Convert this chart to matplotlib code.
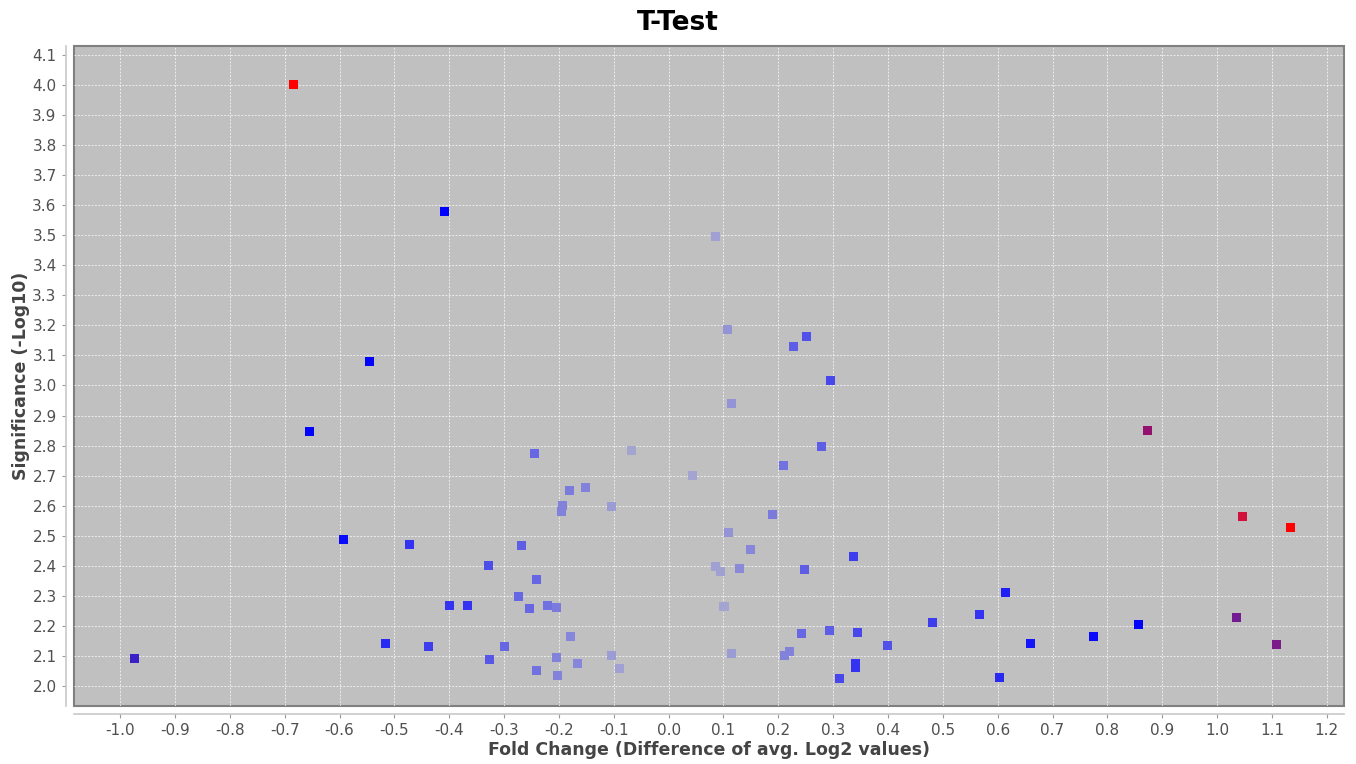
import numpy as np
import matplotlib.pyplot as plt
from matplotlib.colors import LinearSegmentedColormap

# fold change (x), significance -log10 (y), colour shade (0 = faint, 1 = red)
fold_change = [
    -0.683, -0.409, -0.546, -0.654, -0.593, -0.473, -0.973, -0.517, -0.438, -0.400,
    -0.367, -0.329, -0.326, -0.300, -0.274, -0.269, -0.254, -0.240, -0.245, -0.241,
    -0.221, -0.205, -0.205, -0.203, -0.194, -0.196, -0.181, -0.178, -0.167, -0.152,
    -0.105, -0.105, -0.089, -0.067, 0.044, 0.085, 0.086, 0.094, 0.101, 0.108,
    0.110, 0.114, 0.114, 0.130, 0.150, 0.190, 0.209, 0.211, 0.220, 0.227,
    0.251, 0.242, 0.247, 0.278, 0.294, 0.296, 0.312, 0.338, 0.345, 0.341,
    0.341, 0.400, 0.482, 0.566, 0.615, 0.604, 0.659, 0.774, 0.856, 0.874,
    1.047, 1.133, 1.036, 1.109,
]
significance = [
    4.003, 3.578, 3.080, 2.848, 2.487, 2.470, 2.090, 2.140, 2.130, 2.266,
    2.266, 2.400, 2.087, 2.132, 2.296, 2.466, 2.258, 2.353, 2.775, 2.052,
    2.266, 2.262, 2.093, 2.035, 2.600, 2.580, 2.652, 2.165, 2.075, 2.660,
    2.596, 2.100, 2.057, 2.785, 2.700, 3.497, 2.396, 2.382, 2.263, 3.185,
    2.512, 2.108, 2.940, 2.390, 2.453, 2.572, 2.735, 2.100, 2.116, 3.130,
    3.163, 2.176, 2.388, 2.798, 2.185, 3.018, 2.023, 2.432, 2.178, 2.073,
    2.061, 2.135, 2.210, 2.236, 2.311, 2.027, 2.140, 2.166, 2.203, 2.850,
    2.563, 2.528, 2.228, 2.138,
]
shade = [
    1.00, 0.50, 0.50, 0.50, 0.48, 0.40, 0.58, 0.42, 0.38, 0.40,
    0.40, 0.35, 0.33, 0.30, 0.30, 0.32, 0.30, 0.30, 0.30, 0.28,
    0.28, 0.26, 0.24, 0.24, 0.24, 0.24, 0.26, 0.22, 0.22, 0.24,
    0.12, 0.12, 0.10, 0.08, 0.08, 0.10, 0.10, 0.10, 0.08, 0.16,
    0.16, 0.12, 0.16, 0.20, 0.22, 0.26, 0.28, 0.24, 0.24, 0.32,
    0.34, 0.30, 0.32, 0.32, 0.32, 0.36, 0.36, 0.38, 0.36, 0.40,
    0.40, 0.34, 0.38, 0.40, 0.44, 0.42, 0.46, 0.48, 0.50, 0.80,
    0.90, 1.00, 0.70, 0.72,
]

x_ticks = np.round(np.arange(-1.0, 1.21, 0.1), 1)
y_ticks = np.round(np.arange(2.0, 4.11, 0.1), 1)

cmap = LinearSegmentedColormap.from_list(
    "tt",
    [(0.0, "#b4b4cc"), (0.25, "#8080dc"), (0.5, "#0000ff"),
     (0.6, "#4a28b8"), (0.72, "#7a1a8a"), (0.82, "#9a0f6a"),
     (0.9, "#d0103c"), (1.0, "#ff0000")],
)

fig = plt.figure(figsize=(13.56, 7.64), dpi=100)
ax = fig.add_axes([0.0546, 0.0759, 0.9364, 0.8639])
ax.set_facecolor("#c0c0c0")

ax.scatter(fold_change, significance, c=shade, cmap=cmap, vmin=0, vmax=1,
           marker="s", s=42, linewidths=0, zorder=3)

ax.set_xlim(-1.084, 1.231)
ax.set_ylim(1.933, 4.13)
ax.set_xticks(x_ticks)
ax.set_xticklabels(["%.1f" % (v + 0.0) for v in x_ticks])
ax.set_yticks(y_ticks)
ax.set_yticklabels(["%.1f" % v for v in y_ticks])

ax.grid(True, color="white", linestyle=(0, (2, 1.5)), linewidth=0.7, alpha=0.7)
ax.set_axisbelow(True)

for side in ["top", "right"]:
    ax.spines[side].set_visible(False)
for side in ["left", "bottom"]:
    ax.spines[side].set_position(("outward", 6))
    ax.spines[side].set_color("#c8c8c8")
    ax.spines[side].set_linewidth(1.2)

ax.patch.set_edgecolor("#808080")
ax.patch.set_linewidth(1.5)

ax.tick_params(axis="both", colors="#999999", length=3, labelsize=11,
               labelcolor="#505050")

ax.set_xlabel("Fold Change (Difference of avg. Log2 values)", fontsize=12.5,
              fontweight="bold", color="#444444", labelpad=2)
ax.set_ylabel("Significance (-Log10)", fontsize=12.5, fontweight="bold",
              color="#444444", labelpad=2)
fig.text(0.5, 0.97, "T-Test", ha="center", va="center", fontsize=19,
         fontweight="bold")

plt.savefig("out.png")
